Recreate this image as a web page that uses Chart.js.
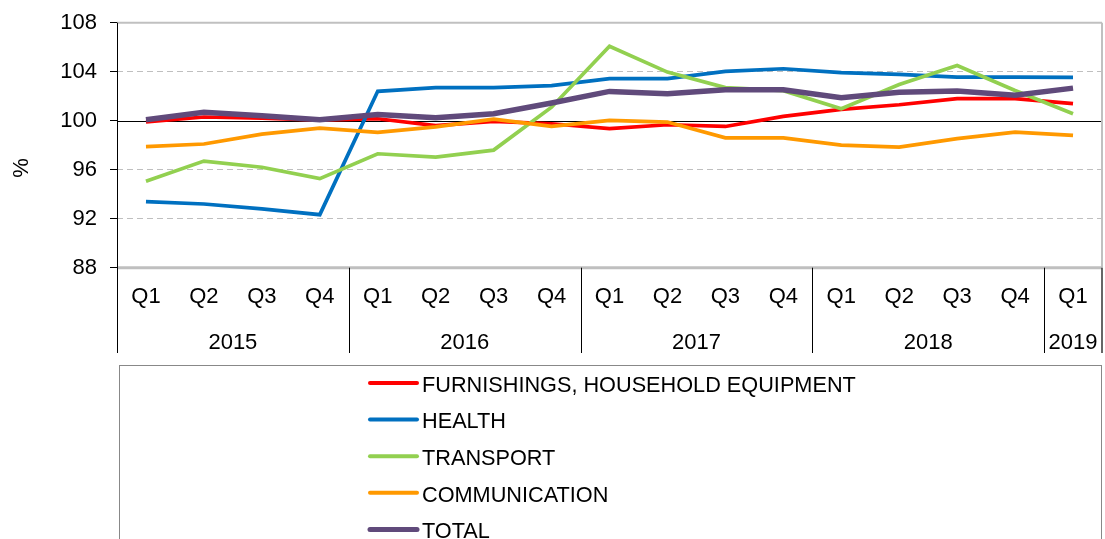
<!DOCTYPE html>
<html>
<head>
<meta charset="utf-8">
<script src="https://cdn.jsdelivr.net/npm/chart.js@4.4.1/dist/chart.umd.min.js"></script>
<style>
  html, body { margin: 0; padding: 0; background: #fff; }
  #wrap { width: 1105px; height: 539px; }
</style>
</head>
<body>
<div id="wrap"><canvas id="grafico"></canvas></div>
<script>
// datos
const quarters = ['Q1', 'Q2', 'Q3', 'Q4', 'Q1', 'Q2', 'Q3', 'Q4', 'Q1', 'Q2', 'Q3', 'Q4', 'Q1', 'Q2', 'Q3', 'Q4', 'Q1'];
const years = ['2015', '2016', '2017', '2018', '2019'];
const quartersPerYear = [4, 4, 4, 4, 1];
const yTicks = [88, 92, 96, 100, 104, 108];

const furnishings = [99.9, 100.3, 100.2, 100.05, 100.16, 99.6, 99.94, 99.75, 99.35, 99.67, 99.53, 100.35, 100.92, 101.3, 101.8, 101.8, 101.39];
const health = [93.39, 93.2, 92.8, 92.33, 102.4, 102.7, 102.7, 102.86, 103.43, 103.43, 104.02, 104.24, 103.92, 103.78, 103.56, 103.56, 103.54];
const transport = [95.05, 96.7, 96.2, 95.27, 97.3, 97.03, 97.6, 101.1, 106.07, 103.97, 102.7, 102.45, 100.98, 102.96, 104.5, 102.47, 100.57];
const communication = [97.88, 98.1, 98.9, 99.4, 99.05, 99.5, 100.13, 99.53, 100.02, 99.89, 98.6, 98.6, 98.01, 97.85, 98.53, 99.07, 98.8];
const total = [100.08, 100.68, 100.4, 100.08, 100.5, 100.24, 100.57, 101.44, 102.39, 102.2, 102.53, 102.53, 101.87, 102.33, 102.42, 102.07, 102.66];

const fuente = "'Liberation Sans', Arial, sans-serif";
Chart.defaults.font.family = fuente;
Chart.defaults.font.size = 22;
Chart.defaults.color = '#000';

function linea(ctx, x1, y1, x2, y2, color, ancho) {
    ctx.beginPath();
    ctx.strokeStyle = color;
    ctx.lineWidth = ancho;
    ctx.moveTo(x1, y1);
    ctx.lineTo(x2, y2);
    ctx.stroke();
}

// ejes, separadores de años y leyenda
const extras = {
    id: 'extras',
    beforeDatasetsDraw(chart) {
        const { ctx, chartArea: a, scales: { y } } = chart;
        ctx.save();
        linea(ctx, a.left, y.getPixelForValue(108), a.right, y.getPixelForValue(108), '#c0c0c0', 2);
        linea(ctx, a.left, Math.round(y.getPixelForValue(100)) + 0.5, a.right, Math.round(y.getPixelForValue(100)) + 0.5, '#000', 1);
        linea(ctx, a.right, a.top, a.right, a.bottom, '#c0c0c0', 2);
        ctx.restore();
    },
    afterDraw(chart) {
        const { ctx, chartArea: a, scales: { x, y } } = chart;
        const fondo = 353;
        const medio = (x.getPixelForValue(1) - x.getPixelForValue(0)) / 2;
        ctx.save();
        linea(ctx, a.left, y.getPixelForValue(88), a.right, y.getPixelForValue(88), '#bfbfbf', 3);
        linea(ctx, Math.round(a.left) + 0.5, a.top, Math.round(a.left) + 0.5, fondo, '#000', 1);
        linea(ctx, a.right, a.bottom, a.right, fondo, '#333', 1.5);

        // años
        ctx.font = '22px ' + fuente;
        ctx.fillStyle = '#000';
        ctx.textAlign = 'center';
        ctx.textBaseline = 'alphabetic';
        let i = 0;
        years.forEach((anio, k) => {
            const ini = i, fin = i + quartersPerYear[k] - 1;
            const cx = (x.getPixelForValue(ini) + x.getPixelForValue(fin)) / 2;
            ctx.fillText(anio, cx, 348.5);
            if (k > 0) {
                const sx = Math.round(x.getPixelForValue(ini) - medio) + 0.5;
                linea(ctx, sx, a.bottom, sx, fondo, '#000', 1);
            }
            i = fin + 1;
        });

        // titulo eje y
        ctx.save();
        ctx.translate(22, 168);
        ctx.rotate(-Math.PI / 2);
        ctx.textBaseline = 'middle';
        ctx.fillText('%', 0, 0);
        ctx.restore();

        // leyenda
        ctx.strokeStyle = '#888';
        ctx.lineWidth = 1;
        ctx.strokeRect(119.5, 365.5, 982, 200);
        ctx.textAlign = 'left';
        ctx.font = '21.7px ' + fuente;
        chart.data.datasets.forEach((ds, n) => {
            const yy = 383 + n * 36.6;
            ctx.lineCap = 'round';
            linea(ctx, 370, yy, 417, yy, ds.borderColor, n === 4 ? 5 : 4);
            ctx.fillStyle = '#000';
            ctx.fillText(ds.label, 422, yy + 8.7);
        });
        ctx.restore();
    }
};

new Chart(document.getElementById('grafico'), {
    type: 'line',
    data: {
        labels: quarters,
        datasets: [
            { label: 'FURNISHINGS, HOUSEHOLD EQUIPMENT', data: furnishings, borderColor: '#ff0000', borderWidth: 3.7, order: 5 },
            { label: 'HEALTH', data: health, borderColor: '#0070c0', borderWidth: 3.7, order: 4 },
            { label: 'TRANSPORT', data: transport, borderColor: '#92d050', borderWidth: 3.7, order: 3 },
            { label: 'COMMUNICATION', data: communication, borderColor: '#ff9900', borderWidth: 3.7, order: 2 },
            { label: 'TOTAL', data: total, borderColor: '#604a7b', borderWidth: 5.5, order: 1 }
        ]
    },
    options: {
        responsive: true,
        maintainAspectRatio: false,
        animation: false,
        layout: { padding: { top: 22.7, right: 3, left: 0, bottom: 0 } },
        elements: { point: { radius: 0 }, line: { tension: 0 } },
        plugins: { legend: { display: false }, tooltip: { enabled: false } },
        scales: {
            x: {
                offset: true,
                grid: { display: false, drawTicks: false },
                border: { display: false },
                ticks: { padding: 16, maxRotation: 0, autoSkip: false },
                afterFit(s) { s.height = 271.3; s.paddingLeft = 0; s.paddingRight = 0; }
            },
            y: {
                min: 88,
                max: 108,
                afterBuildTicks(s) { s.ticks = yTicks.map(v => ({ value: v })); },
                grid: {
                    color: c => (c.tick && [88, 100, 108].includes(c.tick.value)) ? 'rgba(0,0,0,0)' : '#bfbfbf',
                    lineWidth: 1,
                    tickLength: 7,
                    tickColor: '#000'
                },
                border: { display: false, dash: [6, 4] },
                ticks: { padding: 13 },
                afterFit(s) { s.width = 117; s.paddingTop = 0; s.paddingBottom = 0; }
            }
        }
    },
    plugins: [extras]
});
</script>
</body>
</html>
